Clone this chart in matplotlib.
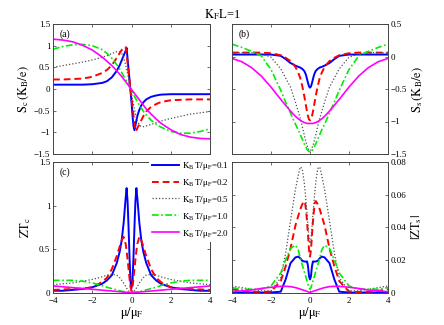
import matplotlib
matplotlib.use("Agg")
import matplotlib.pyplot as plt
from matplotlib.lines import Line2D

plt.rcParams['font.family'] = ['Liberation Serif', 'DejaVu Serif']
plt.rcParams['mathtext.fontset'] = 'stix'

# ---------------- data ----------------
mu = [-4, -3.5, -3, -2.5, -2, -1.5, -1.25, -1, -0.75, -0.6, -0.5, -0.4, -0.3, -0.25, -0.2, -0.15, -0.1, -0.05, 0,
      0.05, 0.1, 0.15, 0.2, 0.25, 0.3, 0.4, 0.5, 0.6, 0.75, 1, 1.25, 1.5, 2, 2.5, 3, 3.5, 4]

temps = ['0.1', '0.2', '0.5', '1.0', '2.0']

# (a) S_c
Sc_01 = [0.1, 0.1, 0.1, 0.1, 0.11, 0.14, 0.18, 0.27, 0.42, 0.55, 0.66, 0.77, 0.88, 0.95, 0.7, 0.45, 0.2, -0.05, -0.3,
         -0.6, -0.85, -0.95, -0.85, -0.72, -0.62, -0.48, -0.38, -0.31, -0.24, -0.18, -0.15, -0.13, -0.12, -0.12, -0.12, -0.12, -0.12]
Sc_02 = [0.22, 0.22, 0.23, 0.24, 0.28, 0.37, 0.44, 0.55, 0.72, 0.83, 0.9, 0.95, 0.97, 0.8, 0.6, 0.4, 0.2, 0.0, -0.2,
         -0.4, -0.6, -0.8, -0.97, -0.95, -0.9, -0.82, -0.72, -0.63, -0.52, -0.41, -0.35, -0.3, -0.26, -0.25, -0.24, -0.24, -0.24]
Sc_05 = [0.5, 0.54, 0.58, 0.62, 0.67, 0.73, 0.77, 0.82, 0.86, 0.86, 0.82, 0.72, 0.56, 0.46, 0.35, 0.24, 0.12, 0.0, -0.12,
         -0.24, -0.36, -0.47, -0.57, -0.66, -0.74, -0.83, -0.87, -0.87, -0.85, -0.82, -0.78, -0.74, -0.68, -0.63, -0.58, -0.55, -0.52]
Sc_10 = [0.92, 0.98, 1.02, 1.03, 1.0, 0.91, 0.82, 0.71, 0.56, 0.46, 0.38, 0.3, 0.22, 0.18, 0.14, 0.1, 0.05, 0.0, -0.05,
         -0.09, -0.13, -0.17, -0.21, -0.25, -0.29, -0.37, -0.44, -0.51, -0.6, -0.72, -0.81, -0.88, -0.98, -1.02, -1.02, -0.98, -0.92]
Sc_20 = [1.15, 1.13, 1.09, 1.01, 0.9, 0.74, 0.64, 0.54, 0.42, 0.34, 0.29, 0.23, 0.17, 0.14, 0.11, 0.08, 0.05, 0.02, -0.01,
         -0.04, -0.07, -0.1, -0.13, -0.16, -0.19, -0.25, -0.31, -0.37, -0.46, -0.58, -0.69, -0.79, -0.94, -1.05, -1.11, -1.14, -1.15]

# (b) S_s
Ss_01 = [0.03, 0.03, 0.03, 0.03, 0.03, 0.01, -0.04, -0.1, -0.14, -0.16, -0.17, -0.19, -0.22, -0.25, -0.29, -0.35, -0.41, -0.46, -0.48,
         -0.46, -0.41, -0.35, -0.29, -0.25, -0.22, -0.19, -0.17, -0.16, -0.14, -0.1, -0.04, 0.01, 0.03, 0.03, 0.03, 0.03, 0.03]
Ss_02 = [0.06, 0.06, 0.06, 0.06, 0.05, 0.02, -0.02, -0.07, -0.16, -0.25, -0.33, -0.45, -0.6, -0.68, -0.77, -0.85, -0.92, -0.97, -0.98,
         -0.97, -0.92, -0.85, -0.77, -0.68, -0.6, -0.45, -0.33, -0.25, -0.16, -0.07, -0.02, 0.02, 0.05, 0.06, 0.06, 0.06, 0.06]
Ss_05 = [0.05, 0.06, 0.06, 0.04, -0.01, -0.19, -0.33, -0.47, -0.7, -0.85, -0.95, -1.07, -1.2, -1.26, -1.32, -1.37, -1.41, -1.44, -1.45,
         -1.44, -1.41, -1.37, -1.32, -1.26, -1.2, -1.07, -0.95, -0.85, -0.7, -0.47, -0.33, -0.19, -0.01, 0.04, 0.06, 0.06, 0.05]
Ss_10 = [0.19, 0.14, 0.08, 0.01, -0.2, -0.52, -0.7, -0.87, -1.04, -1.13, -1.2, -1.27, -1.34, -1.37, -1.4, -1.43, -1.45, -1.46, -1.47,
         -1.46, -1.45, -1.43, -1.4, -1.37, -1.34, -1.27, -1.2, -1.13, -1.04, -0.87, -0.7, -0.52, -0.2, 0.01, 0.08, 0.14, 0.19]
Ss_20 = [-0.03, -0.08, -0.17, -0.3, -0.47, -0.66, -0.75, -0.84, -0.92, -0.96, -0.98, -1.0, -1.015, -1.02, -1.025, -1.03, -1.03, -1.03, -1.03,
         -1.03, -1.03, -1.03, -1.025, -1.02, -1.015, -1.0, -0.98, -0.96, -0.92, -0.84, -0.75, -0.66, -0.47, -0.3, -0.17, -0.08, -0.03]

# (c) ZT_c
ZTc_01 = [0.02, 0.02, 0.03, 0.04, 0.06, 0.1, 0.14, 0.2, 0.34, 0.47, 0.6, 0.8, 1.08, 1.2, 1.05, 0.75, 0.4, 0.12, 0.05,
          0.12, 0.4, 0.75, 1.05, 1.2, 1.08, 0.8, 0.6, 0.47, 0.34, 0.2, 0.14, 0.1, 0.06, 0.04, 0.03, 0.02, 0.02]
ZTc_02 = [0.03, 0.035, 0.04, 0.045, 0.06, 0.12, 0.17, 0.27, 0.42, 0.53, 0.6, 0.64, 0.56, 0.48, 0.38, 0.27, 0.16, 0.06, 0.02,
          0.06, 0.16, 0.27, 0.38, 0.48, 0.56, 0.64, 0.6, 0.53, 0.42, 0.27, 0.17, 0.12, 0.06, 0.045, 0.04, 0.035, 0.03]
ZTc_05 = [0.09, 0.1, 0.11, 0.13, 0.15, 0.18, 0.2, 0.21, 0.2, 0.17, 0.14, 0.11, 0.07, 0.05, 0.035, 0.02, 0.01, 0.003, 0.0,
          0.003, 0.01, 0.02, 0.035, 0.05, 0.07, 0.11, 0.14, 0.17, 0.2, 0.21, 0.2, 0.18, 0.15, 0.13, 0.11, 0.1, 0.09]
ZTc_10 = [0.14, 0.14, 0.14, 0.13, 0.11, 0.08, 0.06, 0.045, 0.03, 0.02, 0.015, 0.01, 0.006, 0.004, 0.003, 0.002, 0.001, 0.0, 0.0,
          0.0, 0.001, 0.002, 0.003, 0.004, 0.006, 0.01, 0.015, 0.02, 0.03, 0.045, 0.06, 0.08, 0.11, 0.13, 0.14, 0.14, 0.14]
ZTc_20 = [0.075, 0.066, 0.056, 0.046, 0.037, 0.027, 0.022, 0.017, 0.012, 0.009, 0.007, 0.005, 0.003, 0.002, 0.0015, 0.001, 0.0005, 0.0, 0.0,
          0.0, 0.0005, 0.001, 0.0015, 0.002, 0.003, 0.005, 0.007, 0.009, 0.012, 0.017, 0.022, 0.027, 0.037, 0.046, 0.056, 0.066, 0.075]

# (d) |ZT_s|
ZTs_01 = [0, 0, 0, 0, 0, 0.0005, 0.008, 0.018, 0.0215, 0.022, 0.021, 0.0195, 0.019, 0.019, 0.019, 0.019, 0.016, 0.01, 0.008,
          0.01, 0.016, 0.019, 0.019, 0.019, 0.019, 0.0195, 0.021, 0.022, 0.0215, 0.018, 0.008, 0.0005, 0, 0, 0, 0, 0]
ZTs_02 = [0.002, 0.001, 0.0005, 0.0003, 0.0005, 0.007, 0.016, 0.027, 0.041, 0.047, 0.051, 0.054, 0.056, 0.055, 0.05, 0.043, 0.035, 0.026, 0.022,
          0.026, 0.035, 0.043, 0.05, 0.055, 0.056, 0.054, 0.051, 0.047, 0.041, 0.027, 0.016, 0.007, 0.0005, 0.0003, 0.0005, 0.001, 0.002]
ZTs_05 = [0.004, 0.003, 0.002, 0.001, 0.001, 0.009, 0.024, 0.044, 0.063, 0.072, 0.077, 0.076, 0.068, 0.062, 0.055, 0.048, 0.04, 0.033, 0.03,
          0.033, 0.04, 0.048, 0.055, 0.062, 0.068, 0.076, 0.077, 0.072, 0.063, 0.044, 0.024, 0.009, 0.001, 0.001, 0.002, 0.003, 0.004]
ZTs_10 = [0.003, 0.002, 0.002, 0.002, 0.004, 0.012, 0.02, 0.027, 0.029, 0.026, 0.021, 0.017, 0.013, 0.011, 0.009, 0.007, 0.005, 0.003, 0.002,
          0.003, 0.005, 0.007, 0.009, 0.011, 0.013, 0.017, 0.021, 0.026, 0.029, 0.027, 0.02, 0.012, 0.004, 0.002, 0.002, 0.002, 0.003]
ZTs_20 = [0.0005, 0.001, 0.0015, 0.0025, 0.0032, 0.0038, 0.0038, 0.0036, 0.003, 0.0025, 0.0021, 0.0017, 0.0013, 0.0011, 0.0009, 0.0007, 0.0004, 0.0002, 0.0,
          0.0002, 0.0004, 0.0007, 0.0009, 0.0011, 0.0013, 0.0017, 0.0021, 0.0025, 0.003, 0.0036, 0.0038, 0.0038, 0.0032, 0.0025, 0.0015, 0.001, 0.0005]

xticks = [-4, -2, 0, 2, 4]
xticklabels = ['\u22124', '\u22122', '0', '2', '4']
yt_a = [-1.5, -1, -0.5, 0, 0.5, 1, 1.5]
ytl_a = ['\u22121.5', '\u22121', '\u22120.5', '0', '0.5', '1', '1.5']
yt_b = [-1.5, -1, -0.5, 0, 0.5]
ytl_b = ['\u22121.5', '\u22121', '\u22120.5', '0', '0.5']
yt_c = [0, 0.5, 1, 1.5]
ytl_c = ['0', '0.5', '1', '1.5']
yt_d = [0, 0.02, 0.04, 0.06, 0.08]
ytl_d = ['0', '0.02', '0.04', '0.06', '0.08']

# ---------------- styles ----------------
styles = [
    dict(color='#0000ff', lw=1.4, ls='-'),
    dict(color='#ff0000', lw=1.4, ls=(0, (3.5, 2.0))),
    dict(color='#505050', lw=0.9, ls=(0, (1, 1.6))),
    dict(color='#00ee00', lw=1.2, ls=(0, (4, 1.5, 1, 1.5))),
    dict(color='#ff00ff', lw=1.2, ls='-'),
]

W, H = 444, 325
fig = plt.figure(figsize=(W / 100, H / 100), dpi=100)

def px_axes(l, t, r, b):
    return fig.add_axes([l / W, 1 - b / H, (r - l) / W, (b - t) / H])

axa = px_axes(53, 24, 210, 154)
axb = px_axes(232, 24, 388, 154)
axc = px_axes(53, 162, 210, 292.5)
axd = px_axes(232, 162, 388, 292.5)

panels = [
    (axa, [Sc_01, Sc_02, Sc_05, Sc_10, Sc_20], (-1.5, 1.5), yt_a, ytl_a, '(a)'),
    (axb, [Ss_01, Ss_02, Ss_05, Ss_10, Ss_20], (-1.5, 0.5), yt_b, ytl_b, '(b)'),
    (axc, [ZTc_01, ZTc_02, ZTc_05, ZTc_10, ZTc_20], (0, 1.5), yt_c, ytl_c, '(c)'),
    (axd, [ZTs_01, ZTs_02, ZTs_05, ZTs_10, ZTs_20], (0, 0.08), yt_d, ytl_d, ''),
]

for ax, series, ylim, yt, ytl, lab in panels:
    for s, st in zip(series, styles):
        ax.plot(mu, s, **st)
    ax.set_xlim(-4, 4)
    ax.set_ylim(*ylim)
    ax.set_xticks(xticks)
    ax.set_yticks(yt)
    ax.set_yticklabels(ytl)
    ax.tick_params(direction='in', length=2.5, width=0.5, labelsize=6.5, pad=2,
                   top=True, bottom=True, left=True, right=True, colors='#333333',
                   labelcolor='black')
    ax.tick_params(axis='x', pad=3.5)
    for sp in ax.spines.values():
        sp.set_linewidth(0.7)
        sp.set_color('#444444')
    if lab:
        ax.text(0.04, 0.96, lab, transform=ax.transAxes, ha='left', va='top', fontsize=7)

for ax in (axa, axb):
    ax.set_xticklabels([])
for ax in (axc, axd):
    ax.set_xticklabels(xticklabels)
    ax.set_xlabel(r'$\mathrm{\mu/\mu_F}$', fontsize=9, labelpad=0)
for ax in (axb, axd):
    ax.yaxis.tick_right()
    ax.yaxis.set_label_position('right')
    ax.tick_params(left=True, right=True, direction='in')

axa.set_ylabel(r'$\mathrm{S_c\,(K_B/e)}$', fontsize=9, labelpad=2)
axb.set_ylabel(r'$\mathrm{S_s\,(K_B/e)}$', fontsize=9, labelpad=2)
axc.set_ylabel(r'$\mathrm{ZT_c}$', fontsize=9, labelpad=4)
axd.set_ylabel(r'$\mathrm{|ZT_s|}$', fontsize=9, labelpad=2)

fig.text(0.5, 0.955, r'$\mathrm{K_F L}$=1', ha='center', va='center', fontsize=9)

handles = [Line2D([], [], **st) for st in styles]
labels = [r'$\mathrm{K_B\,T/\mu_F}$=' + t for t in temps]
leg = fig.legend(handles, labels, loc='upper left', bbox_to_anchor=(149 / W, 1 - 157 / H),
                 fontsize=6.5, frameon=True, fancybox=False, borderpad=0.3,
                 handlelength=3.0, handletextpad=0.3, labelspacing=0.55, borderaxespad=0)
leg.get_frame().set_facecolor('white')
leg.get_frame().set_edgecolor('none')
leg.get_frame().set_alpha(1)
leg.set_zorder(10)

fig.savefig('out.png', dpi=100)
